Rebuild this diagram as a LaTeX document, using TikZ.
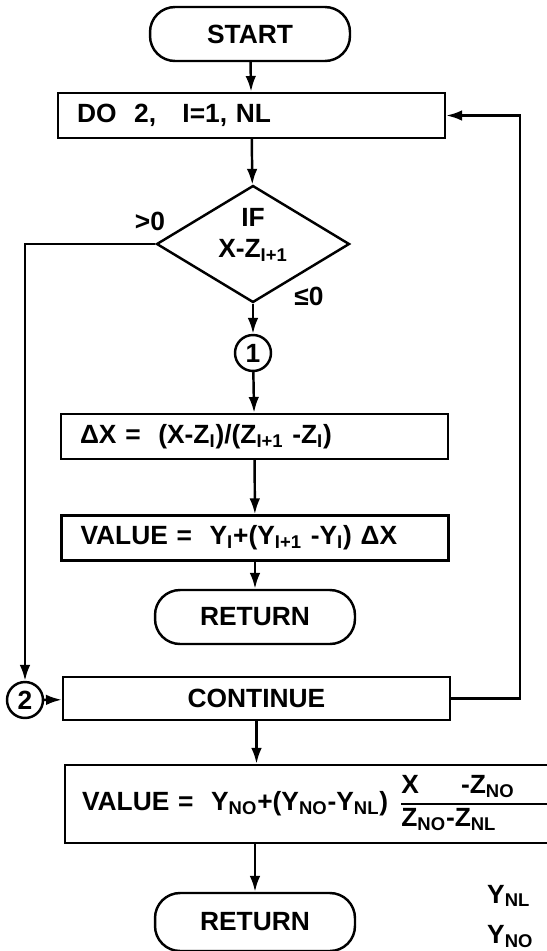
\documentclass[tikz,border=0pt]{standalone}
\usepackage{fontspec}
\setmainfont{Liberation Sans}
\usetikzlibrary{shapes.geometric,arrows.meta}
\newcommand{\subs}[1]{\textsubscript{#1}}
\setlength{\arrayrulewidth}{1.4pt}

\begin{document}
\begin{tikzpicture}[x=0.02cm, y=-0.02cm, font=\fontsize{15}{17}\selectfont\bfseries, line width=1.4pt,
  term/.style={draw, rectangle, rounded corners=0.5cm, minimum width=4cm, minimum height=1.08cm},
  box/.style={draw, rectangle, minimum width=7.74cm, minimum height=0.9cm, inner xsep=0.38cm, text width=6.98cm, align=left},
  conn/.style={draw, circle, minimum size=0.72cm, inner sep=0pt},
  flow/.style={-{Latex[length=9pt,width=6pt]}}]
  \useasboundingbox (0,0) rectangle (547,951);

  % main column
  \node[term] (start) at (250,34) {START};
  \node[box] (do) at (251.5,115.5) {DO\ \ 2,\ \ \ I=1, NL};
  \node[draw, diamond, minimum width=3.86cm, minimum height=2.34cm, inner sep=0pt] (test) at (253,244) {};
  \node[align=center] (testtxt) at (253,235) {IF\\[1pt]X-Z\subs{I+1}};
  \node (gt) at (150,221) {>0};
  \node (le) at (309,296) {≤0};
  \node[conn] (c1) at (253,353) {1};
  \node[box] (dx) at (254.5,436.5) {ΔX = \ (X-Z\subs{I})/(Z\subs{I+1} -Z\subs{I})};
  \node[box] (val) at (255,538) {VALUE = \ Y\subs{I}+(Y\subs{I+1} -Y\subs{I}) ΔX};
  \node[term] (ret1) at (255,617) {RETURN};

  % loop end
  \node[conn] (c2) at (25,700) {2};
  \node[box, align=center, minimum height=0.86cm] (cont) at (256.5,698.5) {CONTINUE};
  \coordinate (loop) at (520,115.5);

  % after the loop
  \node[box, minimum width=11.5cm, minimum height=1.56cm, inner xsep=0.34cm, text width=10.82cm] (fin) at (352.5,804)
    {VALUE = \ Y\subs{NO}+(Y\subs{NO}-Y\subs{NL})\,
     \begin{tabular}[c]{@{}l@{}}\makebox[3.2cm][l]{X\hspace{1.6em}-Z\subs{NO}}\\\hline Z\subs{NO}-Z\subs{NL}\end{tabular}};
  \node[term, minimum height=1.16cm] (ret2) at (255,922) {RETURN};

  % cut-off text at the page edge
  \node[anchor=base west, inner sep=0pt] (ynl) at (486,903) {Y\subs{NL}};
  \node[anchor=base west, inner sep=0pt] (yno) at (486,943) {Y\subs{NO}};

  % connectors
  \draw[flow] (start) -- (do);
  \draw[flow] (do) -- (test);
  \draw[flow] (test) -- (c1);
  \draw[flow] (c1) -- (dx);
  \draw[flow] (dx) -- (val);
  \draw[flow] (val) -- (ret1);
  \draw[flow] (test.west) -| (c2);
  \draw[flow] (c2) -- (cont);
  \draw[flow] (cont.east) -| (loop) -- (do.east);
  \draw[flow] (cont.south) -- (cont.south |- fin.north);
  \draw[flow] (ret2 |- fin.south) -- (ret2);
\end{tikzpicture}
\end{document}
